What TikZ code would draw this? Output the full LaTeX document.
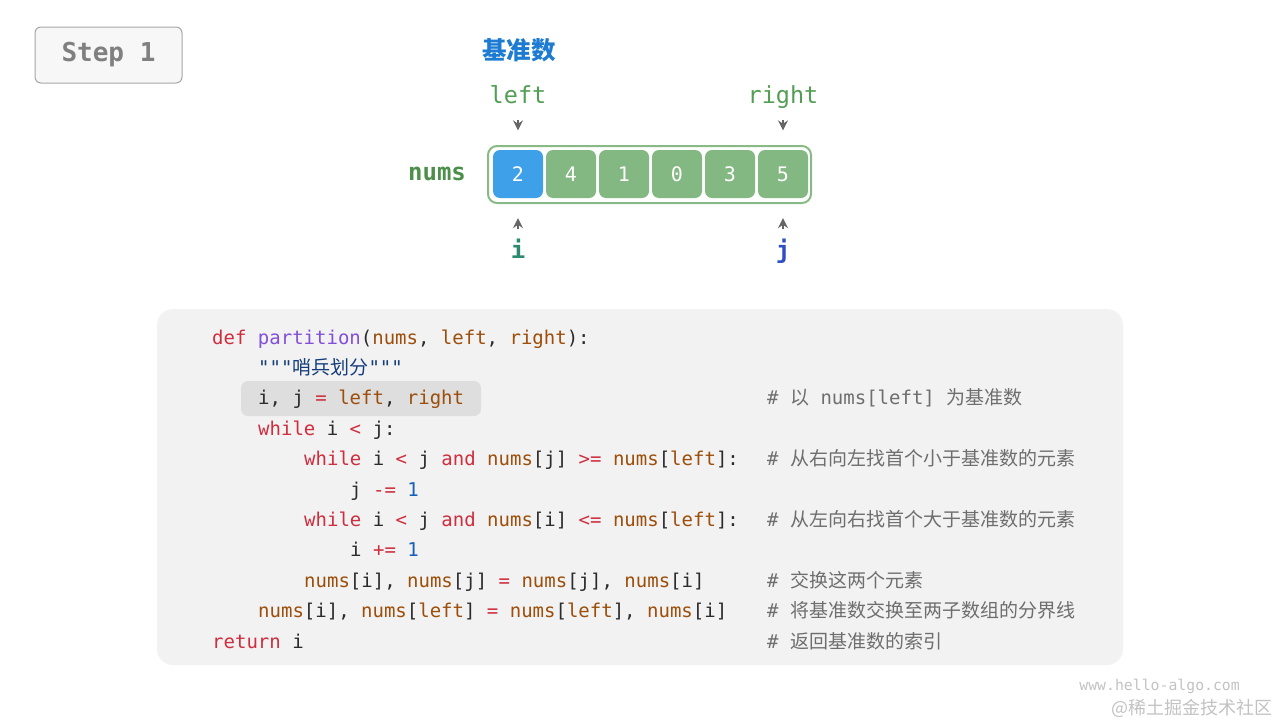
\documentclass[tikz,border=0pt]{standalone}
\usepackage{fontspec}
\setmonofont{DejaVu Sans Mono}
\newfontfamily\cjk{Noto Sans CJK SC}
\usetikzlibrary{arrows.meta}
\definecolor{stepborder}{HTML}{A6A6A6}
\definecolor{stepfill}{HTML}{F7F7F7}
\definecolor{steptext}{HTML}{808080}
\definecolor{titleblue}{HTML}{1D7BD1}
\definecolor{ptrgreen}{HTML}{529E54}
\definecolor{numsgreen}{HTML}{4C8F4A}
\definecolor{arrborder}{HTML}{88BA86}
\definecolor{pivotblue}{HTML}{3EA0E8}
\definecolor{cellgreen}{HTML}{84B882}
\definecolor{ptrgray}{HTML}{666666}
\definecolor{iteal}{HTML}{2B8A72}
\definecolor{jblue}{HTML}{2E4FC4}
\definecolor{codebg}{HTML}{F2F2F2}
\definecolor{hlbg}{HTML}{DEDEDE}
\definecolor{codetext}{HTML}{2B2B2B}
\definecolor{kwred}{HTML}{CF2E3E}
\definecolor{fnpurple}{HTML}{8250D8}
\definecolor{varbrown}{HTML}{9C4E0A}
\definecolor{numblue}{HTML}{1560B8}
\definecolor{strblue}{HTML}{153D7A}
\definecolor{cmtgray}{HTML}{6E6E6E}
\definecolor{wmgray}{HTML}{C2C2C2}
\newcommand\ckw[1]{\textcolor{kwred}{#1}}
\newcommand\cfn[1]{\textcolor{fnpurple}{#1}}
\newcommand\cva[1]{\textcolor{varbrown}{#1}}
\newcommand\cnu[1]{\textcolor{numblue}{#1}}
\newcommand\cst[1]{\textcolor{strblue}{#1}}
\tikzset{
  stepbox/.style={draw=stepborder, fill=stepfill, line width=1pt, rounded corners=6pt,
    minimum width=147pt, minimum height=56pt, inner sep=0, text=steptext,
    font=\ttfamily\bfseries\fontsize{26}{26}\selectfont},
  cell/.style={minimum width=50pt, minimum height=48pt, rounded corners=7pt, inner sep=0,
    text=white, font=\ttfamily\fontsize{20}{20}\selectfont},
  pivotcell/.style={cell, fill=pivotblue},
  numcell/.style={cell, fill=cellgreen},
  ptr/.style={draw=ptrgray, line width=1.2pt, -{Stealth[length=10pt,width=10pt,inset=3.5pt]}},
  ptrlabel/.style={anchor=base, inner sep=0, text=ptrgreen, font=\ttfamily\fontsize{23.5}{23.5}\selectfont},
  idxlabel/.style={anchor=base, inner sep=0, font=\ttfamily\bfseries\fontsize{24}{24}\selectfont},
  code/.style={anchor=base west, inner sep=0, text=codetext, font=\ttfamily\fontsize{19}{19}\selectfont},
  cmt/.style={code, text=cmtgray},
}
\begin{document}
\begin{tikzpicture}[x=1pt,y=-1pt]
\useasboundingbox (0,0) rectangle (1280,720);
% step box
\node[stepbox] (step) at (108.5,55) {Step 1};
% title
\node[inner sep=0, text=titleblue, font=\cjk\bfseries\fontsize{24.5}{24.5}\selectfont] (title) at (519,50) {基准数};
% pointer labels
\node[ptrlabel] (leftlbl) at (518,103) {left};
\node[ptrlabel] (rightlbl) at (783,103) {right};
% nums label
\node[anchor=base, inner sep=0, text=numsgreen, font=\ttfamily\bfseries\fontsize{24}{24}\selectfont] (numslbl) at (437,180.5) {nums};
% array
\draw[draw=arrborder, fill=white, line width=2pt, rounded corners=9pt] (488,146) rectangle (811,203);
\node[pivotcell] (c0) at (518,174) {2};
\node[numcell] (c1) at (571,174) {4};
\node[numcell] (c2) at (624,174) {1};
\node[numcell] (c3) at (677,174) {0};
\node[numcell] (c4) at (730,174) {3};
\node[numcell] (c5) at (783,174) {5};
% pointer arrows
\coordinate (pl) at (518,120);
\coordinate (pr) at (783,120);
\coordinate (pi) at (518,229);
\coordinate (pj) at (783,229);
\draw[ptr, shorten >=19.5pt] (pl) -- (c0.north);
\draw[ptr, shorten >=19.5pt] (pr) -- (c5.north);
\draw[ptr, shorten >=20pt] (pi) -- (c0.south);
\draw[ptr, shorten >=20pt] (pj) -- (c5.south);
\node[idxlabel, text=iteal] (ilbl) at (518,258) {i};
\node[idxlabel, text=jblue] (jlbl) at (783,258) {j};
% code block
\fill[codebg, rounded corners=16pt] (157,309) rectangle (1123,665);
\fill[hlbg, rounded corners=7pt] (241,381) rectangle (481,416);
\node[code] (l0) at (212,344) {\ckw{def} \cfn{partition}(\cva{nums}, \cva{left}, \cva{right}):};
\node[code] (l1) at (258,374.4) {\cst{"""{\cjk 哨兵划分}"""}};
\node[code] (l2) at (258,404.8) {i, j \ckw{=} \cva{left}, \cva{right}};
\node[code] (l3) at (258,435.2) {\ckw{while} i \ckw{<} j:};
\node[code] (l4) at (304,465.6) {\ckw{while} i \ckw{<} j \ckw{and} \cva{nums}[j] \ckw{>=} \cva{nums}[\cva{left}]:};
\node[code] (l5) at (350,496) {j \ckw{-=} \cnu{1}};
\node[code] (l6) at (304,526.4) {\ckw{while} i \ckw{<} j \ckw{and} \cva{nums}[i] \ckw{<=} \cva{nums}[\cva{left}]:};
\node[code] (l7) at (350,556.8) {i \ckw{+=} \cnu{1}};
\node[code] (l8) at (304,587.2) {\cva{nums}[i], \cva{nums}[j] \ckw{=} \cva{nums}[j], \cva{nums}[i]};
\node[code] (l9) at (258,617.6) {\cva{nums}[i], \cva{nums}[\cva{left}] \ckw{=} \cva{nums}[\cva{left}], \cva{nums}[i]};
\node[code] (l10) at (212,648) {\ckw{return} i};
% comments
\node[cmt] (m2) at (767,404.8) {\# {\cjk 以} nums[left] {\cjk 为基准数}};
\node[cmt] (m4) at (767,465.6) {\# {\cjk 从右向左找首个小于基准数的元素}};
\node[cmt] (m6) at (767,526.4) {\# {\cjk 从左向右找首个大于基准数的元素}};
\node[cmt] (m8) at (767,587.2) {\# {\cjk 交换这两个元素}};
\node[cmt] (m9) at (767,617.6) {\# {\cjk 将基准数交换至两子数组的分界线}};
\node[cmt] (m10) at (767,648) {\# {\cjk 返回基准数的索引}};
% watermark
\node[anchor=base east, inner sep=0, text=wmgray, font=\ttfamily\fontsize{14.8}{14.8}\selectfont] (wm1) at (1240,690) {www.hello-algo.com};
\node[anchor=base east, inner sep=0, text=wmgray, font=\cjk\fontsize{18}{18}\selectfont] (wm2) at (1273,714) {@稀土掘金技术社区};
\end{tikzpicture}
\end{document}
